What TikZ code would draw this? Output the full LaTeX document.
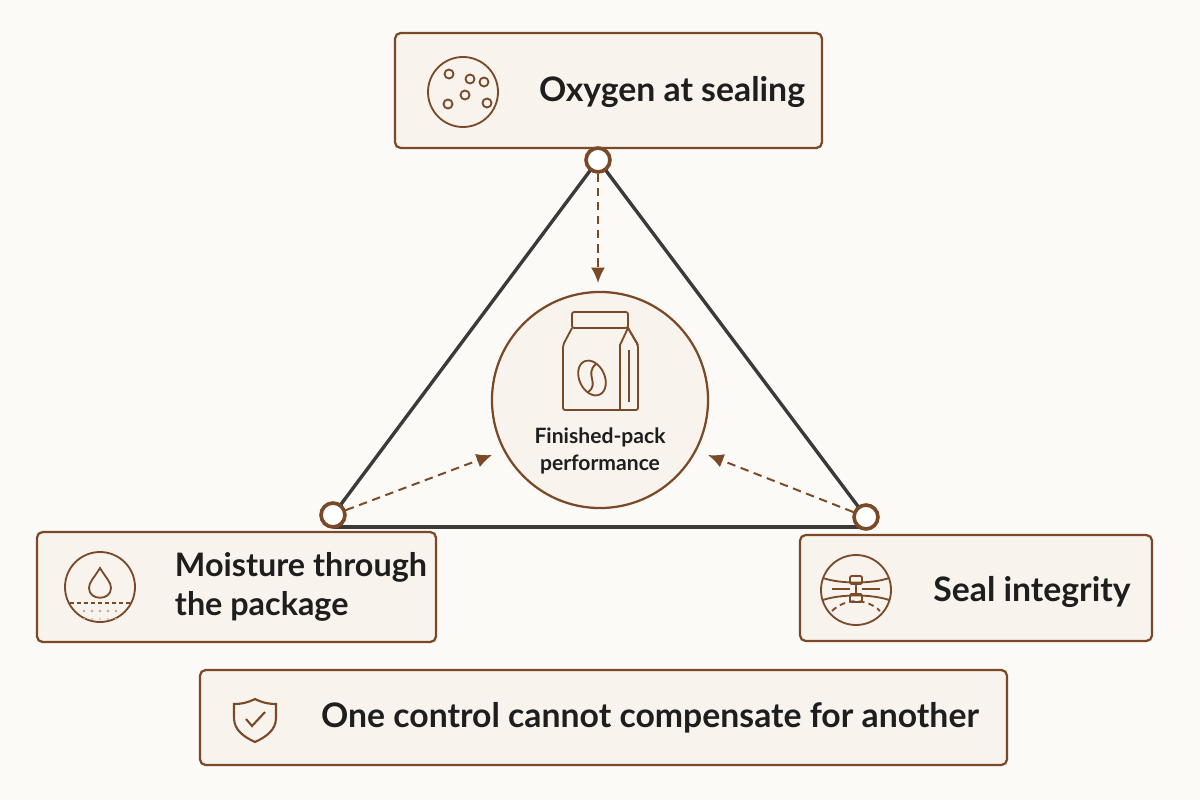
\documentclass[tikz,border=0pt]{standalone}
\usepackage{fontspec}
\setmainfont{Lato}
\usetikzlibrary{arrows.meta}
\definecolor{brownline}{HTML}{7A4A28}
\definecolor{boxfill}{HTML}{F8F3EC}
\definecolor{bgcream}{HTML}{FCFAF7}
\definecolor{edgegray}{HTML}{3A3A3A}
\definecolor{inkblack}{HTML}{1E1E1E}
\tikzset{>=latex,
  factorbox/.style={draw=brownline, fill=boxfill, line width=1.6pt, rounded corners=4pt},
  iconline/.style={draw=brownline, line width=1.3pt},
  bigtext/.style={font=\fontsize{24}{28}\selectfont\bfseries, text=inkblack, align=left},
  vertex/.style={circle, draw=brownline, fill=white, line width=2.6pt, minimum size=17pt, inner sep=0pt},
  influence/.style={draw=brownline, line width=1.4pt, dash pattern=on 6pt off 4pt, -{Latex[length=11pt,width=10pt]}},
  sideline/.style={draw=edgegray, line width=2.4pt}}
\begin{document}
\begin{tikzpicture}[x=0.025cm, y=-0.025cm]
  \fill[bgcream] (0,0) rectangle (1200,800);
  \useasboundingbox (0,0) rectangle (1200,800);
  % triangle
  \coordinate (vt) at (598,160);
  \coordinate (vl) at (333,515);
  \coordinate (vr) at (866,517);
  \draw[sideline] (vt) -- (vl);
  \draw[sideline] (vt) -- (vr);
  \draw[sideline] (333,527) -- (866,527);
  % boxes
  \draw[factorbox] (395,33) rectangle (822,148);
  \draw[factorbox] (37,532) rectangle (436,642);
  \draw[factorbox] (800,535) rectangle (1152,641);
  \draw[factorbox] (200,670) rectangle (1007,765);
  % centre
  \node[circle, draw=brownline, fill=boxfill, line width=1.6pt, minimum size=5.4cm] (pack) at (600,400) {};
  \node[font=\fontsize{15}{19}\selectfont\bfseries, text=inkblack, align=center] (packtext) at (600,451) {Finished-pack\\performance};
  % bag icon
  \draw[iconline, rounded corners=1.5pt] (572,312) rectangle (628,328);
  \draw[iconline, rounded corners=1.5pt] (572,328) -- (563,345) -- (563,410) -- (638,410) -- (638,345) -- (628,328);
  \draw[iconline] (620,410) -- (620,345) -- (628,328) -- (638,345);
  \draw[iconline] (629,350) -- (629,402);
  \draw[iconline, rotate around={25:(592,378)}] (592,378) ellipse (9pt and 13pt);
  \draw[iconline] (596,364) .. controls (584,374) and (600,384) .. (588,392);
  % labels
  \node[bigtext] (oxygen) at (672,92) {Oxygen at sealing};
  \node[bigtext, anchor=west, font=\fontsize{23}{28}\selectfont\bfseries] (moisture) at (170,587) {Moisture through\\the package};
  \node[bigtext] (seal) at (1032,592) {Seal integrity};
  \node[bigtext] (note) at (650,718) {One control cannot compensate for another};
  % oxygen icon
  \draw[iconline] (463,92) circle (35);
  \foreach \px/\py in {449/74, 470/79, 465/95, 448/104, 487/103, 484/82}
    \draw[iconline, line width=1.3pt] (\px,\py) circle (4.5);
  % moisture icon
  \draw[iconline] (100,587) circle (35);
  \draw[iconline] (100,568) .. controls (94,578) and (89,582) .. (89,588) .. controls (89,601) and (111,601) .. (111,588) .. controls (111,582) and (106,578) .. (100,568) -- cycle;
  \draw[iconline, dash pattern=on 3pt off 2pt] (70,603) -- (130,603);
  \foreach \px in {84,92,100,108,116}
    { \fill[brownline!50] (\px,611) circle (1.3); \fill[brownline!35] (\px,619) circle (1.2); }
  % seal icon
  \draw[iconline] (856,590) circle (35);
  \draw[iconline] (823,578) .. controls (840,584) and (872,584) .. (889,578);
  \draw[iconline] (823,600) .. controls (840,594) and (872,594) .. (889,600);
  \draw[iconline] (832,589) -- (850,589);
  \draw[iconline] (862,589) -- (880,589);
  \draw[iconline, rounded corners=1pt] (850,576) rectangle (862,584);
  \draw[iconline, rounded corners=1pt] (850,594) rectangle (862,602);
  \draw[iconline] (856,584) -- (856,594);
  \draw[iconline, dash pattern=on 4pt off 3pt] (832,611) .. controls (845,598) and (867,598) .. (880,611);
  % shield icon
  \draw[iconline, line width=1.5pt] (255,699) .. controls (247,703) and (241,704) .. (234,704) -- (234,718) .. controls (234,730) and (244,737) .. (255,742) .. controls (266,737) and (276,730) .. (276,718) -- (276,704) .. controls (269,704) and (263,703) .. (255,699) -- cycle;
  \draw[iconline, line width=1.5pt] (246,719) -- (252,726) -- (265,712);
  % influences
  \node[vertex] (top) at (vt) {};
  \node[vertex] (left) at (vl) {};
  \node[vertex] (right) at (vr) {};
  \coordinate (intop) at (598,283);
  \coordinate (inleft) at (492,455);
  \coordinate (inright) at (708,455);
  \draw[influence] (top) -- (intop);
  \draw[influence] (left) -- (inleft);
  \draw[influence] (right) -- (inright);
\end{tikzpicture}
\end{document}
